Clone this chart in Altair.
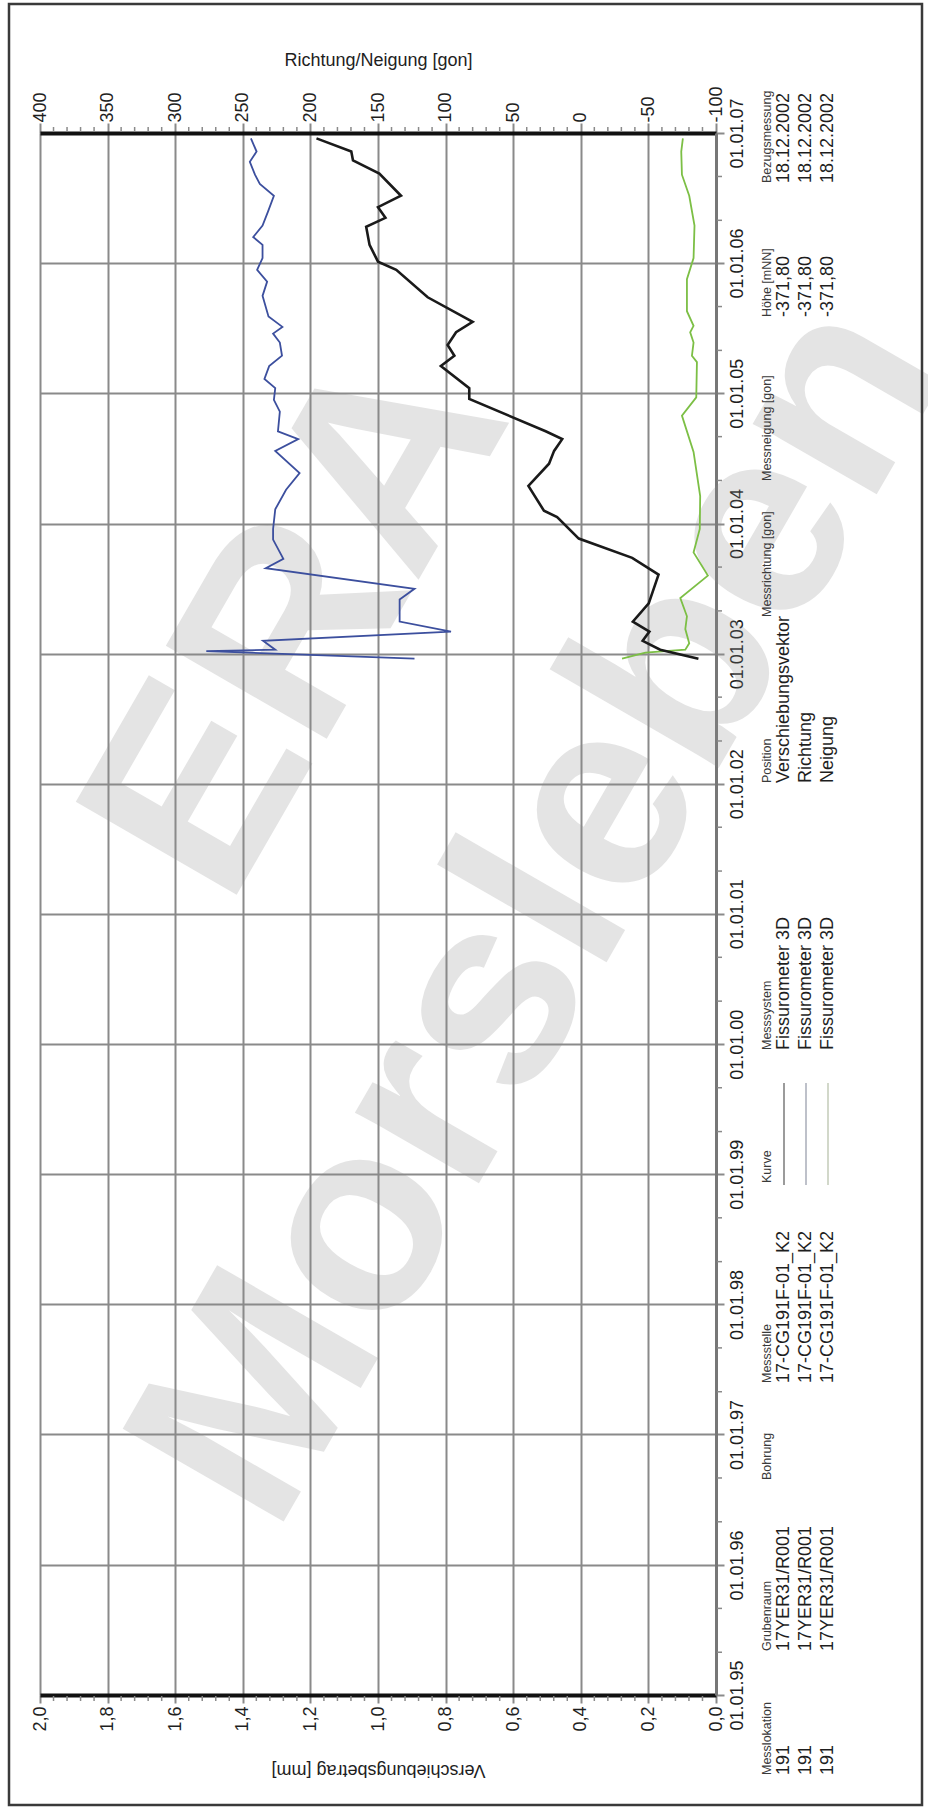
import altair as alt
import pandas as pd

FONT = "Liberation Sans"

# ---------------------------------------------------------------------------
# Messreihen (Bezugsmessung 18.12.2002)
# ---------------------------------------------------------------------------
vektor_datum = [
    "2002-12-18", "2003-01-12", "2003-02-06", "2003-03-04", "2003-04-01",
    "2003-05-22", "2003-08-11", "2003-09-27", "2003-11-20", "2004-01-19",
    "2004-02-06", "2004-04-16", "2004-06-17", "2004-07-23", "2004-08-25",
    "2004-09-16", "2004-12-16", "2005-01-15", "2005-03-18", "2005-04-16",
    "2005-05-16", "2005-06-21", "2005-07-20", "2005-09-27", "2005-12-13",
    "2006-01-05", "2006-02-21", "2006-04-13", "2006-05-08", "2006-06-07",
    "2006-07-09", "2006-09-09", "2006-10-16", "2006-11-10", "2006-12-17",
]
vektor_mm = [
    0.052, 0.165, 0.217, 0.197, 0.246,
    0.199, 0.170, 0.248, 0.406, 0.470,
    0.509, 0.555, 0.494, 0.479, 0.455,
    0.504, 0.730, 0.730, 0.814, 0.774,
    0.794, 0.769, 0.720, 0.853, 0.946,
    1.000, 1.025, 1.035, 0.978, 1.000,
    0.932, 0.996, 1.074, 1.079, 1.182,
]

richtung_datum = [
    "2002-12-18", "2003-01-08", "2003-01-12", "2003-02-06", "2003-03-04",
    "2003-04-01", "2003-06-02", "2003-07-02", "2003-08-29", "2003-09-24",
    "2003-11-17", "2003-12-17", "2004-02-10", "2004-04-05", "2004-05-22",
    "2004-07-23", "2004-08-25", "2004-09-16", "2004-11-10", "2004-12-13",
    "2005-01-15", "2005-02-10", "2005-03-18", "2005-04-16", "2005-05-23",
    "2005-06-17", "2005-07-06", "2005-08-04", "2005-10-01", "2005-11-10",
    "2005-12-13", "2006-01-15", "2006-02-21", "2006-03-15", "2006-04-16",
    "2006-05-26", "2006-07-09", "2006-08-11", "2006-09-06", "2006-10-12",
    "2006-11-10", "2006-12-17",
]
richtung_gon = [
    123.0, 277.0, 226.0, 235.0, 96.0,
    134.0, 134.0, 123.0, 233.0, 220.0,
    227.6, 227.6, 226.0, 218.0, 208.0,
    226.0, 209.0, 224.0, 222.6, 227.0,
    226.0, 234.0, 230.5, 221.0, 222.6,
    227.6, 220.7, 231.0, 235.4, 232.0,
    239.4, 235.4, 235.4, 242.3, 235.4,
    231.3, 227.0, 237.4, 241.0, 244.8,
    239.8, 244.0,
]

neigung_datum = [
    "2002-12-18", "2003-01-04", "2003-01-12", "2003-01-30", "2003-03-11",
    "2003-04-16", "2003-06-06", "2003-08-08", "2003-10-12", "2003-12-17",
    "2004-03-18", "2004-07-20", "2004-10-30", "2004-12-20", "2005-03-29",
    "2005-04-16", "2005-05-23", "2005-06-21", "2005-07-09", "2005-08-19",
    "2005-11-17", "2006-01-15", "2006-04-16", "2006-07-09", "2006-09-06",
    "2006-11-10", "2006-12-17",
]
neigung_gon = [
    -30.5, -47.8, -77.3, -80.2, -77.3,
    -78.5, -73.6, -94.0, -83.4, -88.0,
    -88.3, -83.4, -74.8, -85.4, -85.9,
    -82.2, -83.4, -80.9, -83.4, -78.5,
    -78.5, -83.4, -84.1, -80.2, -74.8,
    -74.3, -75.5,
]

# ---------------------------------------------------------------------------
# Achsen
# ---------------------------------------------------------------------------
gon_ticks = [400, 350, 300, 250, 200, 150, 100, 50, 0, -50, -100]
mm_ticks = [2.0, 1.8, 1.6, 1.4, 1.2, 1.0, 0.8, 0.6, 0.4, 0.2, 0.0]
jahre = list(range(1995, 2008))

# ---------------------------------------------------------------------------
# Legendenblock rechts
# ---------------------------------------------------------------------------
legende_kopf = [
    "Messlokation", "Grubenraum", "Bohrung", "Messstelle", "Kurve",
    "Messsystem", "Position", "Messrichtung [gon]", "Messneigung [gon]",
    "Höhe [mNN]", "Bezugsmessung",
]
legende_werte = [
    ["191", "191", "191"],
    ["17YER31/R001", "17YER31/R001", "17YER31/R001"],
    [],
    ["17-CG191F-01_K2", "17-CG191F-01_K2", "17-CG191F-01_K2"],
    [],
    ["Fissurometer 3D", "Fissurometer 3D", "Fissurometer 3D"],
    ["Verschiebungsvektor", "Richtung", "Neigung"],
    [],
    [],
    ["-371,80", "-371,80", "-371,80"],
    ["18.12.2002", "18.12.2002", "18.12.2002"],
]
kurve_farben = ["#7a7a7a", "#a9acb8", "#c3cbb9"]
wasserzeichen = ["ERA", "Morsleben"]

# ---------------------------------------------------------------------------
# Layout in Pixeln
# ---------------------------------------------------------------------------
W, H = 676, 1562          # Zeichenfläche
LEFT, TOP = 40, 133       # Lage der Zeichenfläche im Blatt
GRID = "#8a8a8a"
TXT = "#1e1e1e"

spalte_unten = [1775, 1651, 1480, 1383, 1183, 1050, 783, 617, 481, 317, 183]
kopf_x = 767
zeilen_x = [784, 806, 828]
kurve_oben = 1083

# ---------------------------------------------------------------------------
# Skalen und Achsen
# ---------------------------------------------------------------------------
y_scale = alt.Scale(
    type="utc",
    domain=[alt.DateTime(year=1995, month=1, date=1, utc=True),
            alt.DateTime(year=2007, month=1, date=1, utc=True)],
    nice=False,
)
y_axis = alt.Axis(
    orient="right",
    values=[alt.DateTime(year=j, month=1, date=1, utc=True) for j in jahre],
    labelExpr="utcFormat(datum.value, '%d.%m.%y')",
    labelAngle=270, labelAlign="center", labelBaseline="top",
    labelFontSize=18, labelColor=TXT, labelPadding=4,
    labelFlush=False, labelOverlap=False, labelBound=False,
    tickSize=8, tickColor=GRID, tickWidth=2,
    domainColor="#777777", domainWidth=3,
    grid=True, gridColor=GRID, gridWidth=2,
    title=None,
)
y_enc = alt.Y("datum:T", scale=y_scale, axis=y_axis)

gon_scale = alt.Scale(domain=[-100, 400], reverse=True, nice=False, zero=False)
gon_axis = alt.Axis(
    orient="top", values=gon_ticks,
    labelExpr="toString(datum.value)",
    labelAngle=270, labelAlign="left", labelBaseline="middle",
    labelFontSize=18, labelColor=TXT, labelPadding=1,
    labelFlush=False, labelOverlap=False, labelBound=False,
    tickSize=10, tickColor=GRID, tickWidth=2,
    domainColor="#111111", domainWidth=4,
    grid=True, gridColor=GRID, gridWidth=2,
    title="Richtung/Neigung [gon]", titleFontSize=18, titleFontWeight="normal",
    titleColor=TXT, titleY=-73, titleBaseline="middle",
)
gon_enc = alt.X("gon:Q", scale=gon_scale, axis=gon_axis)

mm_scale = alt.Scale(domain=[0, 2], reverse=True, nice=False, zero=False)
mm_axis = alt.Axis(
    orient="bottom", values=mm_ticks,
    labelExpr="replace(format(datum.value, '.1f'), '.', ',')",
    labelAngle=270, labelAlign="right", labelBaseline="middle",
    labelFontSize=18, labelColor=TXT, labelPadding=3,
    labelFlush=False, labelOverlap=False, labelBound=False,
    tickSize=8, tickColor=GRID, tickWidth=2,
    domainColor="#111111", domainWidth=4,
    grid=False,
    title="Verschiebungsbetrag [mm]", titleFontSize=18, titleFontWeight="normal",
    titleColor=TXT, titleAngle=180, titleY=74, titleBaseline="middle",
)
mm_enc = alt.X("mm:Q", scale=mm_scale, axis=mm_axis)

# ---------------------------------------------------------------------------
# Tabellen
# ---------------------------------------------------------------------------
df_vektor = pd.DataFrame({"datum": vektor_datum, "mm": vektor_mm})
df_richtung = pd.DataFrame({"datum": richtung_datum, "gon": richtung_gon})
df_neigung = pd.DataFrame({"datum": neigung_datum, "gon": neigung_gon})

df_minor_gon = pd.DataFrame({"gon": [v for v in range(-90, 400, 10) if v % 50 != 0]})
df_minor_mm = pd.DataFrame({"mm": [round(k * 0.04, 2) for k in range(1, 50) if k % 5 != 0]})
df_minor_zeit = pd.DataFrame({"datum": [f"{j}-{m:02d}-01" for j in range(1995, 2007) for m in (5, 9)]})

leg_rows = []
for kopf, werte, yb in zip(legende_kopf, legende_werte, spalte_unten):
    leg_rows.append({"px": kopf_x - LEFT, "py": yb - TOP, "txt": kopf, "fs": 12.5, "farbe": "#3a3a3a"})
    for xv, w in zip(zeilen_x, werte):
        leg_rows.append({"px": xv - LEFT, "py": yb - TOP, "txt": w, "fs": 18, "farbe": TXT})
df_leg = pd.DataFrame(leg_rows)

kurve_unten = spalte_unten[legende_kopf.index("Kurve")] + 2
df_kurve = pd.DataFrame({
    "px": [x - LEFT for x in zeilen_x],
    "y1": [kurve_oben - TOP] * 3,
    "y2": [kurve_unten - TOP] * 3,
    "farbe": kurve_farben,
})

df_wz = pd.DataFrame({"txt": wasserzeichen, "px": [300 - LEFT, 542 - LEFT], "py": [623 - TOP, 912 - TOP]})
df_eins = pd.DataFrame({"a": [0]})

# ---------------------------------------------------------------------------
# Ebenen
# ---------------------------------------------------------------------------
richtung = alt.Chart(df_richtung).mark_line(color="#3c4f9e", strokeWidth=1.8).encode(
    x=gon_enc, y=y_enc, order=alt.Order("datum:T"))
neigung = alt.Chart(df_neigung).mark_line(color="#7cbf45", strokeWidth=1.8).encode(
    x=gon_enc, y=y_enc, order=alt.Order("datum:T"))
minor_top = alt.Chart(df_minor_gon).mark_rule(color=GRID, strokeWidth=1.5).encode(
    x=gon_enc, y=alt.value(-6), y2=alt.value(-1))
minor_right = alt.Chart(df_minor_zeit).mark_rule(color=GRID, strokeWidth=1.5).encode(
    y=y_enc, x=alt.value(W + 1), x2=alt.value(W + 6))
gon_gruppe = alt.layer(minor_top, minor_right, neigung, richtung)

vektor = alt.Chart(df_vektor).mark_line(color="#1a1a1a", strokeWidth=2.6).encode(
    x=mm_enc, y=y_enc, order=alt.Order("datum:T"))
minor_bottom = alt.Chart(df_minor_mm).mark_rule(color=GRID, strokeWidth=1.5).encode(
    x=mm_enc, y=alt.value(H + 1), y2=alt.value(H + 6))
mm_gruppe = alt.layer(minor_bottom, vektor)

diagramm = alt.layer(gon_gruppe, mm_gruppe).resolve_scale(x="independent")

wz = alt.Chart(df_wz).mark_text(
    angle=300, align="center", baseline="middle", font=FONT,
    fontSize=270, fontWeight="bold", color="#8c8c8c", opacity=0.23,
).encode(x=alt.X("px:Q", scale=None, axis=None), y=alt.Y("py:Q", scale=None, axis=None), text="txt:N")

legende = alt.Chart(df_leg).mark_text(angle=270, align="left", baseline="middle", font=FONT).encode(
    x=alt.X("px:Q", scale=None, axis=None),
    y=alt.Y("py:Q", scale=None, axis=None),
    text="txt:N",
    size=alt.Size("fs:Q", scale=None, legend=None),
    color=alt.Color("farbe:N", scale=None, legend=None),
)
kurven = alt.Chart(df_kurve).mark_rule(strokeWidth=1.5).encode(
    x=alt.X("px:Q", scale=None, axis=None),
    y=alt.Y("y1:Q", scale=None, axis=None),
    y2="y2:Q",
    color=alt.Color("farbe:N", scale=None, legend=None),
)
rahmen = alt.Chart(df_eins).mark_rect(fillOpacity=0, stroke="#3a3a3a", strokeWidth=2.5).encode(
    x=alt.value(9 - LEFT), x2=alt.value(922 - LEFT),
    y=alt.value(4 - TOP), y2=alt.value(1805 - TOP),
)

chart = (
    alt.layer(wz, diagramm, legende, kurven, rahmen)
    .resolve_scale(x="independent", y="independent")
    .properties(
        width=W, height=H,
        padding={"left": LEFT, "top": TOP, "right": 928 - LEFT - W, "bottom": 1809 - TOP - H},
        autosize=alt.AutoSizeParams(type="none"),
        background="white",
    )
    .configure(font=FONT)
    .configure_view(stroke=None)
)

chart.save("out.html", embed_options={"renderer": "svg", "actions": False})
